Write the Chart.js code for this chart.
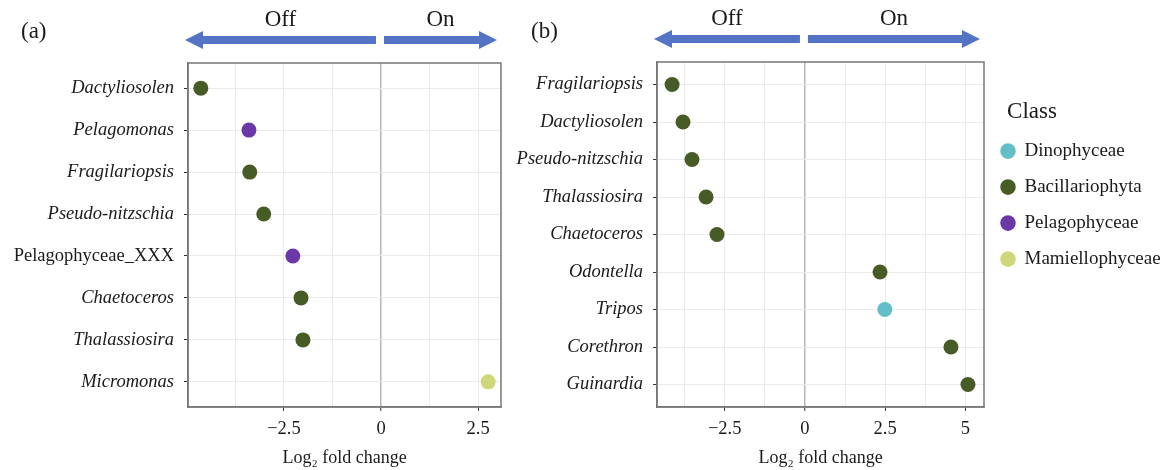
<!DOCTYPE html>
<html>
<head>
<meta charset="utf-8">
<script src="https://cdn.jsdelivr.net/npm/chart.js@4.4.1/dist/chart.umd.min.js"></script>
<style>
  body { margin: 0; background: #fff; }
  .panel { position: absolute; top: 0; height: 470px; }
  #wrapA { left: 0; width: 520px; }
  #wrapB { left: 505px; width: 661px; }
</style>
</head>
<body>
<div class="panel" id="wrapA"><canvas id="chartA"></canvas></div>
<div class="panel" id="wrapB"><canvas id="chartB"></canvas></div>
<script>
// classes and their colours (legend order)
const classNames = ['Dinophyceae', 'Bacillariophyta', 'Pelagophyceae', 'Mamiellophyceae'];
const classColors = ['#62bfc7', '#475b27', '#6b38a8', '#cfd77a'];

// panel (a)
const genusA = ['Dactyliosolen', 'Pelagomonas', 'Fragilariopsis', 'Pseudo-nitzschia',
                'Pelagophyceae_XXX', 'Chaetoceros', 'Thalassiosira', 'Micromonas'];
const lfcA = [-4.64, -3.40, -3.38, -3.02, -2.27, -2.06, -2.01, 2.76];
const classA = ['Bacillariophyta', 'Pelagophyceae', 'Bacillariophyta', 'Bacillariophyta',
                'Pelagophyceae', 'Bacillariophyta', 'Bacillariophyta', 'Mamiellophyceae'];
const majorTicksA = [-2.5, 0, 2.5];
const minorTicksA = [-3.75, -1.25, 1.25];

// panel (b)
const genusB = ['Fragilariopsis', 'Dactyliosolen', 'Pseudo-nitzschia', 'Thalassiosira',
                'Chaetoceros', 'Odontella', 'Tripos', 'Corethron', 'Guinardia'];
const lfcB = [-4.14, -3.80, -3.52, -3.08, -2.74, 2.34, 2.49, 4.55, 5.08];
const classB = ['Bacillariophyta', 'Bacillariophyta', 'Bacillariophyta', 'Bacillariophyta',
                'Bacillariophyta', 'Bacillariophyta', 'Dinophyceae', 'Bacillariophyta', 'Bacillariophyta'];
const majorTicksB = [-2.5, 0, 2.5, 5];
const minorTicksB = [-3.75, -1.25, 1.25, 3.75];

const SERIF = "'Liberation Serif', 'Times New Roman', serif";
const TXT = '#1a1a1a';

const fmt = v => v < 0 ? '\u2212' + Math.abs(v) : String(v);

function drawArrow(ctx, from, to, y) {
    const dir = Math.sign(to - from);
    const neck = to - dir * 18;
    ctx.beginPath();
    ctx.moveTo(from, y - 4);
    ctx.lineTo(neck, y - 4);
    ctx.lineTo(neck, y - 9);
    ctx.lineTo(to, y);
    ctx.lineTo(neck, y + 9);
    ctx.lineTo(neck, y + 4);
    ctx.lineTo(from, y + 4);
    ctx.closePath();
    ctx.fill();
}

// panel frame, Off/On arrows and panel tag
const panelDeco = {
    id: 'panelDeco',
    beforeDatasetsDraw(chart) {
        const { ctx, chartArea: a } = chart;
        ctx.save();
        ctx.strokeStyle = '#777';
        ctx.lineWidth = 1.5;
        ctx.strokeRect(a.left, a.top, a.right - a.left, a.bottom - a.top);
        ctx.restore();
    },
    afterDraw(chart, args, opts) {
        const { ctx, chartArea: a } = chart;
        const zero = chart.scales.x.getPixelForValue(0);
        const y = a.top - 23;
        const l0 = zero - 5, l1 = a.left - 3;
        const r0 = zero + 3, r1 = a.right - 4;
        ctx.save();
        ctx.fillStyle = '#5373c4';
        drawArrow(ctx, l0, l1, y);
        drawArrow(ctx, r0, r1, y);
        ctx.fillStyle = TXT;
        ctx.font = '23px ' + SERIF;
        ctx.textBaseline = 'middle';
        ctx.textAlign = 'center';
        ctx.fillText('Off', (l0 + l1) / 2, a.top - 43);
        ctx.fillText('On', (r0 + r1) / 2, a.top - 43);
        ctx.textAlign = 'left';
        ctx.fillText(opts.tag, opts.tagX, 32);
        ctx.restore();
    }
};

// keep the legend box at a fixed width so the plot area lines up,
// then open its clip box so the labels are not cut off
const fixLegend = {
    id: 'fixLegend',
    beforeLayout(chart, args, opts) {
        const lg = chart.legend;
        if (!lg || lg._fixed) return;
        const fit = lg.fit;
        lg.fit = function() { fit.call(this); this.width = opts.width; };
        lg._fixed = true;
    },
    afterLayout(chart) {
        if (chart.legend && chart.legend.options.display) chart.legend.right = chart.width;
    }
};

function makeChart(id, genus, lfc, cls, major, minor, xMin, xMax, cfg) {
    const datasets = classNames.map((c, k) => ({
        label: c,
        data: genus.map((g, i) => cls[i] === c ? { x: lfc[i], y: i } : null).filter(p => p),
        backgroundColor: classColors[k],
        borderWidth: 0,
        pointRadius: 7.5,
        pointStyle: 'circle'
    }));
    const allTicks = major.concat(minor).sort((p, q) => p - q);

    return new Chart(document.getElementById(id), {
        type: 'scatter',
        data: { datasets: datasets },
        options: {
            responsive: true,
            maintainAspectRatio: false,
            animation: false,
            events: [],
            layout: { padding: { top: cfg.top, right: cfg.right, left: 0, bottom: 0 } },
            scales: {
                x: {
                    type: 'linear',
                    min: xMin,
                    max: xMax,
                    afterBuildTicks: s => { s.ticks = allTicks.map(v => ({ value: v })); },
                    afterFit: s => { s.height = 63; },
                    border: { display: true, color: '#777', width: 1.5 },
                    grid: {
                        color: c => c.tick && c.tick.value === 0 ? '#b5b5b5' : '#ebebeb',
                        lineWidth: c => c.tick && c.tick.value === 0 ? 1.5 : 1,
                        tickColor: c => c.tick && major.includes(c.tick.value) ? '#333' : 'rgba(0,0,0,0)',
                        tickLength: 4,
                        tickWidth: 1
                    },
                    ticks: {
                        autoSkip: false,
                        maxRotation: 0,
                        padding: 7,
                        color: TXT,
                        font: { family: SERIF, size: 18.5 },
                        callback: v => major.includes(v) ? fmt(v) : ''
                    },
                    title: {
                        display: true,
                        text: 'Log\u2082 fold change',
                        color: TXT,
                        font: { family: SERIF, size: 18 },
                        padding: { top: 0, bottom: 1 }
                    }
                },
                y: {
                    type: 'linear',
                    reverse: true,
                    min: -0.6,
                    max: genus.length - 0.4,
                    afterBuildTicks: s => { s.ticks = genus.map((g, i) => ({ value: i })); },
                    afterFit: s => { s.width = cfg.yWidth; },
                    border: { display: true, color: '#777', width: 1.5 },
                    grid: { color: '#ebebeb', lineWidth: 1, tickColor: '#333', tickLength: 4 },
                    ticks: {
                        autoSkip: false,
                        padding: 10,
                        color: TXT,
                        font: c => ({
                            family: SERIF,
                            size: 18.5,
                            style: (genus[c.index] || '').includes('_') ? 'normal' : 'italic'
                        }),
                        callback: v => genus[v]
                    }
                }
            },
            plugins: {
                tooltip: { enabled: false },
                legend: cfg.legend ? {
                    display: true,
                    position: 'right',
                    align: 'start',
                    title: {
                        display: true,
                        text: 'Class',
                        color: TXT,
                        font: { family: SERIF, size: 23 },
                        padding: { top: 38, bottom: -3 }
                    },
                    labels: {
                        usePointStyle: true,
                        boxWidth: 14,
                        boxHeight: 11,
                        padding: 17,
                        color: TXT,
                        font: { family: SERIF, size: 19 }
                    }
                } : { display: false },
                fixLegend: { width: 96 },
                panelDeco: { tag: cfg.tag, tagX: cfg.tagX }
            }
        },
        plugins: [fixLegend, panelDeco]
    });
}

makeChart('chartA', genusA, lfcA, classA, majorTicksA, minorTicksA, -4.97, 3.09,
    { top: 63, right: 19, yWidth: 188, legend: false, tag: '(a)', tagX: 21 });
makeChart('chartB', genusB, lfcB, classB, majorTicksB, minorTicksB, -4.61, 5.58,
    { top: 62, right: 86, yWidth: 152, legend: true, tag: '(b)', tagX: 26 });
</script>
</body>
</html>
